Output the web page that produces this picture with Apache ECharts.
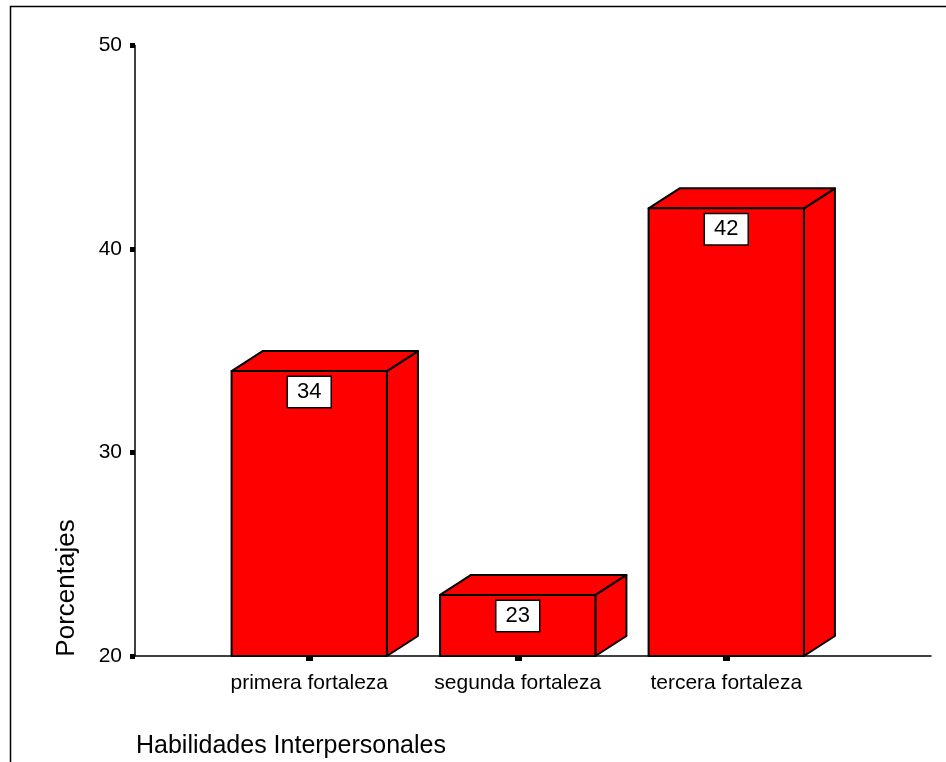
<!DOCTYPE html>
<html>
<head>
<meta charset="utf-8">
<script src="https://cdn.jsdelivr.net/npm/echarts@6/dist/echarts.min.js"></script>
<style>
  html, body { margin: 0; padding: 0; background: #fff; }
  #chart { width: 946px; height: 762px; }
</style>
</head>
<body>
<div id="chart"></div>
<script>
// Percentages per category of interpersonal skills
const categories = ['primera fortaleza', 'segunda fortaleza', 'tercera fortaleza'];
const percentages = [34, 23, 42];
const yTicks = [20, 30, 40, 50];

const FONT = 'Arial, "Liberation Sans", sans-serif';
const yMin = yTicks[0];
const yMax = yTicks[yTicks.length - 1];

// 3D box: front face, right side face and top face
function renderBox(params, api) {
  const top = api.coord([api.value(0), api.value(1)]);
  const base = api.coord([api.value(0), yMin]);
  const band = api.size([1, 0])[0];
  const w = band * 0.745;
  const dx = 31, dy = 20;
  const l = top[0] - w / 2, r = top[0] + w / 2, t = top[1], b = base[1];
  const edge = { fill: '#ff0000', stroke: '#000', lineWidth: 2, lineJoin: 'round' };
  return {
    type: 'group',
    children: [
      { type: 'polygon', shape: { points: [[r, b], [r, t], [r + dx, t - dy], [r + dx, b - dy]] }, style: edge },
      { type: 'polygon', shape: { points: [[l, t], [r, t], [r + dx, t - dy], [l + dx, t - dy]] }, style: edge },
      { type: 'rect', shape: { x: l, y: t, width: w, height: b - t }, style: edge },
      {
        type: 'text', x: top[0], y: t + 6,
        style: {
          text: String(api.value(1)), fontSize: 22, fontFamily: FONT, fill: '#000',
          align: 'center', verticalAlign: 'top',
          backgroundColor: '#fff', borderColor: '#000', borderWidth: 1.5,
          padding: [3, 9, 3, 9], lineHeight: 24
        }
      }
    ]
  };
}

const chart = echarts.init(document.getElementById('chart'));
chart.setOption({
  animation: false,
  backgroundColor: '#fff',
  title: {
    text: 'Habilidades Interpersonales',
    left: 136, top: 734, padding: 0,
    textStyle: { fontSize: 25, fontWeight: 'normal', fontFamily: FONT, color: '#000' }
  },
  graphic: [
    // page frame
    { type: 'rect', shape: { x: 10.5, y: 6.5, width: 1000, height: 1000 }, style: { fill: 'none', stroke: '#000', lineWidth: 1.5 }, silent: true },
    {
      type: 'text', x: 67, y: 588, rotation: Math.PI / 2,
      style: { text: 'Porcentajes', fontSize: 26, fontFamily: FONT, fill: '#000', align: 'center', verticalAlign: 'middle' }
    }
  ],
  grid: [
    { left: 135, right: 15, top: 45.5, bottom: 106 },
    { left: 205, right: 115.5, top: 45.5, bottom: 106 }
  ],
  xAxis: [
    {
      gridIndex: 0, type: 'value', min: 0, max: 1,
      axisLine: { show: true, lineStyle: { color: '#000', width: 1.5 } },
      axisTick: { show: false }, axisLabel: { show: false }, splitLine: { show: false }
    },
    {
      gridIndex: 1, type: 'category', data: categories,
      axisLine: { show: false },
      axisTick: { show: true, alignWithLabel: true, length: 5, lineStyle: { color: '#000', width: 7 } },
      axisLabel: { fontSize: 21, fontFamily: FONT, color: '#000', margin: 17, interval: 0, hideOverlap: false },
      splitLine: { show: false }
    }
  ],
  yAxis: [
    {
      gridIndex: 0, type: 'value', min: yMin, max: yMax, interval: 10,
      axisLine: { show: true, lineStyle: { color: '#000', width: 1.5 } },
      axisTick: { show: true, length: 5, lineStyle: { color: '#000', width: 5 } },
      axisLabel: { fontSize: 21, fontFamily: FONT, color: '#000', margin: 13 },
      splitLine: { show: false }
    },
    {
      gridIndex: 1, type: 'value', min: yMin, max: yMax, interval: 10, show: false
    }
  ],
  series: [{
    type: 'custom',
    xAxisIndex: 1, yAxisIndex: 1,
    renderItem: renderBox,
    data: percentages.map((v, i) => [i, v])
  }]
});
</script>
</body>
</html>
